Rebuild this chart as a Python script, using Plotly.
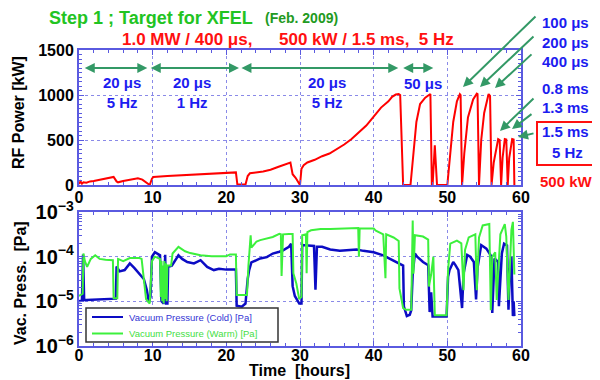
import numpy as np
import plotly.graph_objects as go

# ---------------- data ----------------
rf_hours = [0, 0.2, 0.4, 0.6, 1.0, 1.5, 2, 3, 4, 4.7, 5.1, 5.3, 6, 7, 8, 8.6, 9.4, 9.6, 9.9, 10.1,
            12, 14, 16, 18, 20, 21.3, 21.5, 22.6, 22.9, 23.2, 25, 26, 27, 28, 28.7, 29.0, 29.4, 30.0,
            30.2, 30.5, 31, 32, 33, 34, 35, 36, 37, 38, 39, 40, 41, 42, 42.5, 43.0, 43.4, 43.6, 44.0,
            45.0, 45.3, 45.8, 46.3, 47.0, 47.5, 47.7, 47.9, 48.0, 48.3, 48.6, 50.0, 50.3, 50.8, 51.3,
            51.7, 51.8, 52.0, 52.3, 52.8, 53.5, 54.0, 54.1, 54.3, 54.6, 55.0, 55.6, 55.8, 56.0, 56.3,
            56.9, 57.1, 57.3, 57.5, 57.8, 58.0, 58.2, 58.4, 58.8, 59.0, 59.1]
rf_kw = [10, 40, 15, 30, 25, 40, 45, 60, 75, 90, 40, 30, 45, 60, 75, 60, 5, 0, 70, 90,
         100, 110, 120, 130, 135, 140, 5, 5, 100, 130, 150, 170, 200, 230, 250, 120, 80, 0,
         180, 220, 250, 280, 320, 350, 400, 450, 510, 590, 660, 760, 860, 930, 980, 1005, 1010, 1000, 0,
         0, 300, 700, 900, 970, 1000, 1010, 0, 0, 440, 0, 0, 300, 700, 930,
         1010, 1000, 0, 350, 750, 950, 1015, 1010, 0, 500, 800, 1010, 990, 0, 250,
         510, 500, 0, 300, 510, 505, 0, 300, 510, 505, 0]

cold_hours = [0, 0.4, 0.55, 0.7, 1, 2, 3, 4, 5.0, 5.1, 5.5, 6.2, 6.9, 7.5, 8.2, 8.8, 9.2, 9.5, 9.7, 9.9,
              10.3, 11.0, 11.2, 11.5, 11.7, 11.8, 12.0, 12.1, 12.6, 13.5, 14.0, 14.7, 15.6, 16.5, 17.4,
              18.3, 19, 20, 21.3, 21.4, 22.1, 22.6, 22.9, 23.1, 23.4, 24.1, 24.6, 25.5, 26.3, 27.2, 27.7,
              28.5, 28.8, 29.0, 29.3, 29.9, 30.2, 30.3, 31, 31.9, 32.1, 32.3, 33, 34.1, 35.4, 36.5, 37.7,
              38.6, 40, 41.3, 42.5, 43.8, 44.0, 44.1, 44.5, 44.9, 45.1, 45.3, 45.6, 45.9, 46.7, 47.4,
              47.5, 47.6, 47.8, 48.0, 49.9, 50.1, 50.3, 50.8, 51.1, 51.5, 52.0, 52.2, 52.7, 53.1, 53.6,
              53.9, 54.1, 54.6, 55.3, 56.0, 56.1, 56.4, 56.9, 57.0, 57.4, 57.7, 58.1, 58.3, 58.5, 58.7,
              58.9, 59.0, 59.1]
cold_log10_pa = [-5.0, -4.98, -3.95, -4.97, -4.97, -4.96, -4.96, -4.95, -4.94, -4.22, -4.33, -4.3, -4.15,
                 -4.25, -4.38, -4.5, -4.74, -5.02, -4.9, -4.0, -3.9, -3.97, -5.0, -5.05, -3.96, -5.05,
                 -5.05, -4.23, -4.2, -3.97, -4.05, -4.12, -4.15, -4.08, -4.23, -4.3, -4.27, -4.29, -4.29,
                 -5.1, -5.12, -5.05, -4.5, -4.3, -4.13, -4.08, -4.04, -4.01, -3.93, -3.89, -3.86, -3.78,
                 -3.71, -4.66, -4.88, -5.05, -5.05, -3.74, -3.75, -3.76, -4.74, -3.78, -3.78, -3.84,
                 -3.87, -3.85, -3.84, -3.87, -3.9, -3.97, -4.08, -4.18, -4.2, -5.11, -5.33, -5.3, -5.2,
                 -4.38, -3.93, -4.0, -4.12, -4.19, -5.03, -5.24, -4.8, -5.34, -5.34, -4.45, -4.3, -4.12,
                 -4.19, -4.3, -5.15, -4.38, -3.96, -4.0, -4.12, -4.96, -4.25, -3.74, -3.82, -4.0, -5.26,
                 -4.04, -4.12, -5.11, -3.93, -3.71, -3.75, -5.19, -4.3, -4.0, -5.33, -5.0, -5.33]

warm_hours = [0, 0.5, 0.6, 0.8, 1.1, 1.6, 2.2, 2.8, 3.6, 4.6, 4.7, 5.2, 5.3, 6.0, 6.9, 8.2, 8.5, 9.1, 9.6,
              9.9, 10.3, 11.0, 11.1, 11.2, 11.3, 11.4, 11.5, 11.6, 11.7, 11.8, 11.9, 12.0, 12.5, 12.7,
              13.5, 14.4, 15.1, 16.5, 18, 20, 20.5, 21.3, 21.4, 22.8, 23.0, 23.3, 23.4, 24.1, 24.6, 25.5,
              26.3, 27.2, 27.4, 27.5, 27.7, 28.5, 29.0, 29.1, 29.5, 29.9, 30.2, 30.3, 30.8, 30.9, 31.0,
              31.5, 32.8, 34.1, 36, 37.9, 38.0, 38.1, 40, 40.3, 41.3, 41.6, 41.7, 42.7, 43.4, 43.5, 44.0,
              44.4, 45.1, 45.3, 45.4, 45.6, 46.7, 47.4, 47.5, 47.8, 48.1, 48.3, 49.9, 50.1, 50.4, 51.3,
              51.9, 52.2, 52.4, 52.9, 53.8, 54.0, 54.3, 54.8, 55.7, 55.9, 56.1, 56.5, 56.7, 57.2, 57.8,
              58.0, 58.3, 58.7, 58.9, 59.1]
warm_log10_pa = [-4.88, -4.83, -3.93, -4.1, -4.23, -4.05, -3.97, -4.05, -4.07, -4.08, -4.93, -4.93, -4.05,
                 -4.1, -4.03, -4.03, -4.05, -4.95, -5.05, -4.1, -4.0, -4.05, -4.9, -4.1, -5.0, -4.2,
                 -5.05, -4.1, -4.95, -4.15, -5.0, -4.2, -4.2, -3.93, -3.78, -3.88, -3.92, -3.97, -3.99,
                 -3.99, -3.95, -3.95, -4.86, -4.86, -4.2, -3.52, -3.8, -3.66, -3.63, -3.6, -3.56, -3.49,
                 -3.5, -4.43, -3.5, -3.49, -3.49, -4.37, -4.6, -4.95, -4.9, -3.52, -3.5, -4.37, -3.45,
                 -3.41, -3.38, -3.38, -3.37, -3.36, -4.0, -3.37, -3.37, -3.42, -3.5, -4.48, -3.5, -3.57,
                 -3.65, -4.71, -5.15, -5.19, -5.19, -3.19, -4.38, -3.52, -3.55, -3.62, -4.67, -4.4, -4.0,
                 -5.31, -5.31, -4.3, -3.71, -3.64, -3.7, -4.75, -3.85, -3.57, -3.5, -4.75, -3.57, -3.3,
                 -3.27, -5.2, -4.0, -3.9, -4.97, -3.5, -3.27, -3.55, -4.97, -3.4, -3.22, -4.4]

hour_ticks = [0, 10, 20, 30, 40, 50, 60]
rf_ticks = [0, 500, 1000, 1500]
legend_names = ["Vacuum Pressure (Cold) [Pa]", "Vacuum Pressure (Warm) [Pa]"]

# ---------------- layout helpers (screen pixel -> paper) ----------------
OFF = 8                      # page body margin of the browser
W, H = 592, 372
L, R, T, B = 71, 79, 42, 34


def xp(px):
    return (px - OFF - L) / (W - L - R)


def yp(py):
    return (H - B - (py - OFF)) / (H - T - B)


FONT = "Liberation Sans, Arial, sans-serif"
AX_COL = "#5a5ae0"
GRID_COL = "#8a8ae8"
GREEN_ARROW = "#339966"
BLUE_TXT = "#1c1cf0"
COLD_COL = "#0c0cc4"
WARM_COL = "#3cf03c"

fig = go.Figure()
fig.add_trace(go.Scatter(x=rf_hours, y=rf_kw, mode="lines", xaxis="x", yaxis="y",
                         line=dict(color="#ff0000", width=2), showlegend=False))
fig.add_trace(go.Scatter(x=cold_hours, y=10.0 ** np.array(cold_log10_pa), mode="lines",
                         xaxis="x2", yaxis="y2", line=dict(color=COLD_COL, width=2.5),
                         name=legend_names[0], showlegend=False))
fig.add_trace(go.Scatter(x=warm_hours, y=10.0 ** np.array(warm_log10_pa), mode="lines",
                         xaxis="x2", yaxis="y2", line=dict(color=WARM_COL, width=2),
                         name=legend_names[1], showlegend=False))

tickfont = dict(family=FONT, size=16, color="black", weight="bold")
common = dict(showline=True, linecolor=AX_COL, linewidth=2, mirror="ticks", ticks="inside",
              ticklen=5, tickcolor=AX_COL, tickwidth=1, showgrid=True, gridcolor=GRID_COL,
              griddash="dot", gridwidth=1, zeroline=False, tickfont=tickfont, automargin=False)

fig.update_layout(
    width=W, height=H, margin=dict(l=L, r=R, t=T, b=B, autoexpand=False),
    paper_bgcolor="white", plot_bgcolor="white",
    font=dict(family=FONT),
    xaxis=dict(domain=[0, 1], anchor="y", range=[0, 60], tickvals=hour_ticks, ticklabelstandoff=-3,
               minor=dict(dtick=2, ticks="inside", ticklen=3, tickcolor=AX_COL, showgrid=False),
               **common),
    yaxis=dict(domain=[yp(185), 1], anchor="x", range=[0, 1500], tickvals=rf_ticks,
               minor=dict(dtick=50, ticks="inside", ticklen=3, tickcolor=AX_COL, showgrid=False),
               **common),
    xaxis2=dict(domain=[0, 1], anchor="y2", range=[0, 60], tickvals=hour_ticks, ticklabelstandoff=-6,
                minor=dict(dtick=2, ticks="inside", ticklen=3, tickcolor=AX_COL, showgrid=False),
                **common),
    yaxis2=dict(domain=[0, yp(212)], anchor="x2", type="log", range=[-6, -3], dtick=1,
                exponentformat="power",
                minor=dict(ticks="inside", ticklen=3, tickcolor=AX_COL, showgrid=False),
                **common),
    showlegend=False,
)

ann = []


def text(px, py, s, size, color, xanchor="left", weight="bold", family=FONT):
    ann.append(dict(x=xp(px), y=yp(py), xref="paper", yref="paper", text=s, showarrow=False,
                    xanchor=xanchor, yanchor="middle",
                    font=dict(family=family, size=size, color=color, weight=weight)))


# titles
text(47, 18, "Step 1 ; Target for XFEL", 18, "#22c422")
text(263, 18, "(Feb. 2009)", 14, "#229a22")
text(120, 39, "1.0 MW / 400 μs,", 17, "#ff1010")
text(277, 39, "500 kW / 1.5 ms,\u00a0 5 Hz", 17, "#ff1010")

# axis titles
ann.append(dict(x=xp(18), y=yp(112), xref="paper", yref="paper", text="RF Power [kW]",
                showarrow=False, textangle=-90, xanchor="center", yanchor="middle",
                font=dict(family=FONT, size=16, color="black", weight="bold")))
ann.append(dict(x=xp(20), y=yp(283), xref="paper", yref="paper", text="Vac. Press.\u00a0 [Pa]",
                showarrow=False, textangle=-90, xanchor="center", yanchor="middle",
                font=dict(family=FONT, size=16, color="black", weight="bold")))
text(299, 370, "Time\u00a0 [hours]", 16, "black", xanchor="center")

# in-plot labels
for cx, s in [(121.7, "20 μs<br>5 Hz"), (191.7, "20 μs<br>1 Hz"), (326.7, "20 μs<br>5 Hz")]:
    text(cx, 92, s, 15, BLUE_TXT, xanchor="center")
text(423.3, 83, "50 μs", 15, BLUE_TXT, xanchor="center")

# right labels
for py, s in [(23, "100 μs"), (42, "200 μs"), (61, "400 μs"), (88, "0.8 ms"), (107, "1.3 ms"),
              (131, "1.5 ms")]:
    text(540, py, s, 15, BLUE_TXT)
text(567, 152, "5 Hz", 15, BLUE_TXT, xanchor="center")
text(538, 181, "500 kW", 15, "#ff1010")

# legend (drawn by hand to match the compact box)
shapes = [dict(type="rect", xref="paper", yref="paper", x0=xp(86), x1=xp(278), y0=yp(342),
               y1=yp(308), line=dict(color="#333333", width=1.5), fillcolor="white", layer="above")]
for i, (col, tcol) in enumerate([(COLD_COL, "#3434d4"), (WARM_COL, "#44e044")]):
    ly = 317 + 16.5 * i
    shapes.append(dict(type="line", xref="paper", yref="paper", x0=xp(92), x1=xp(123),
                       y0=yp(ly), y1=yp(ly), line=dict(color=col, width=2), layer="above"))
    text(127, ly, legend_names[i], 9.5, tcol, weight="normal")

# horizontal double arrows (data coords)
for x0, x1 in [(0.58, 9.27), (9.54, 21.72), (21.85, 43.34), (43.8, 48.1)]:
    ann.append(dict(x=x1, y=1300, ax=x0, ay=1300, xref="x", yref="y", axref="x", ayref="y",
                    text="", showarrow=True, arrowhead=2, arrowside="end+start", arrowsize=1,
                    arrowwidth=2, arrowcolor=GREEN_ARROW, standoff=0, startstandoff=0))

# diagonal pointer arrows (pixel positions)
for (tx, ty), (hx, hy) in [((537, 15), (463, 87)), ((535, 35), (480, 87)), ((533, 53), (495, 88)),
                           ((535, 97), (500, 131)), ((533, 113), (512, 129)),
                           ((535, 133), (518, 137))]:
    ann.append(dict(x=xp(hx), y=yp(hy), xref="paper", yref="paper", ax=tx - hx, ay=ty - hy,
                    text="", showarrow=True, arrowhead=2, arrowsize=1, arrowwidth=2,
                    arrowcolor=GREEN_ARROW, standoff=0))

shapes.append(dict(type="rect", xref="paper", yref="paper", x0=xp(537), x1=xp(610), y0=yp(165),
                   y1=yp(122), line=dict(color="#ff1010", width=2), fillcolor="rgba(0,0,0,0)"))

fig.update_layout(annotations=ann, shapes=shapes)

fig.write_html("out.html")
